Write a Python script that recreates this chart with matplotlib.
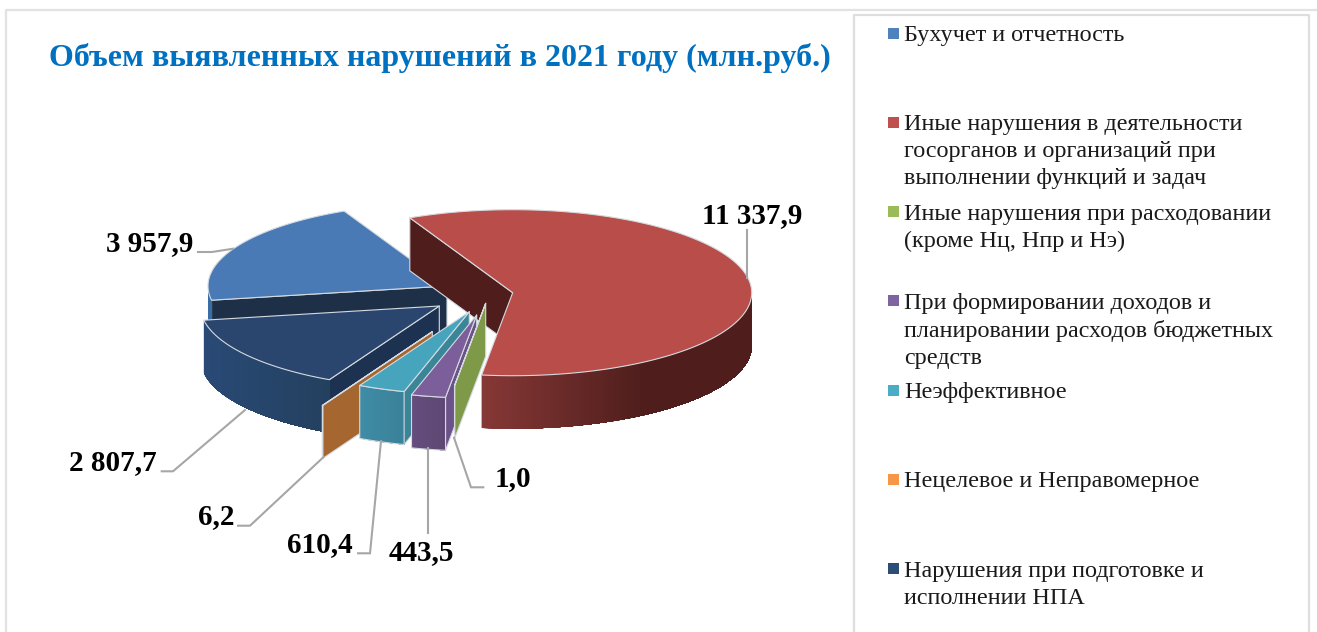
#!/usr/bin/env python3
"""Exploded 3D-look pie: violations found in 2021 (mln rub)."""
import numpy as np
import matplotlib; matplotlib.use("Agg"); import matplotlib.pyplot as plt
from matplotlib.colors import to_rgb
from matplotlib.patches import Polygon, Rectangle

plt.rcParams["font.family"] = ["Liberation Serif", "DejaVu Serif"]

TITLE = "Объем выявленных нарушений в 2021 году (млн.руб.)"
categories = ["Бухучет и отчетность",
              "Иные нарушения в деятельности\nгосорганов и организаций при\nвыполнении функций и задач",
              "Иные нарушения при расходовании\n(кроме Нц, Нпр и Нэ)",
              "При формировании доходов и\nпланировании расходов бюджетных\nсредств",
              "Неэффективное",
              "Нецелевое и Неправомерное",
              "Нарушения при подготовке и\nисполнении НПА"]
values = [3957.9, 11337.9, 1.0, 443.5, 610.4, 6.2, 2807.7]

legend_colors = ["#4F81BD", "#C0504D", "#9BBB59", "#8064A2", "#4BACC6", "#F79646", "#2C4D75"]

# layout, in pixels of the 1317x632 picture
START, A, B, DEPTH = 189.85, 239, 83, 53
centers = [(447, 286), (512.7, 292.7), (485.7, 303.3), (476.7, 315), (469.3, 311.7), (432.3, 331.7), (439.3, 306)]
draw_order = [0, 1, 6, 5, 4, 3, 2]    # back to front
top_col = ["#4A7AB5", "#B84D4A", "#7E9A49", "#7C5E9A", "#46A5BD", "#B5702F", "#2A466E"]
cut_col = ["#1E3048", "#4F1E1C", "#7E9A49", "#6B5389", "#3A8598", "#A5672F", "#1D3250"]
side_l = ["#3A6CA5", "#863836", "#7E9A49", "#654D7E", "#3F8CA6", "#A5672F", "#294A76"]
side_r = ["#3A6CA5", "#4F1E1C", "#7E9A49", "#5C4670", "#3A8299", "#A5672F", "#24405F"]
side_span = [40, 160, 40, 40, 40, 40, 125]    # px over which the side shade runs out
label_xy = [(150, 244), (752, 216), (513, 479), (421, 553), (320, 545), (216, 517), (113, 463)]
leaders = [[(198, 252), (212, 252), (233, 248.7)],
           [(746.7, 230), (746.7, 278)],
           [(483.3, 487.3), (471, 487.3), (454, 437.7)],
           [(428.3, 532.7), (428.3, 448.3)],
           [(358, 553.3), (370, 553.3), (381, 441)],
           [(238, 525.7), (250, 525.7), (323.3, 457.3)],
           [(161.7, 471.3), (173, 471.3), (245, 410)]]
EDGE = "#D5DAE0"

fig = plt.figure(figsize=(13.17, 6.32), dpi=100)
ax = fig.add_axes([0, 0, 1, 1]); ax.set_xlim(0, 1317); ax.set_ylim(632, 0); ax.axis("off")

# frames
ax.plot([6, 6, 1317], [632, 10, 10], color="#E2E2E2", lw=1.6)
ax.plot([853.5, 853.5, 1308.5, 1308.5], [632, 14.5, 14.5, 632], color="#DEDEDE", lw=1.6)

def pt(c, t):
    return c[0] + A * np.cos(np.radians(t)), c[1] - B * np.sin(np.radians(t))

def face(xy, fc, ec=EDGE, lw=0.8):
    ax.add_patch(Polygon(xy, closed=True, fc=fc, ec=ec, lw=lw, joinstyle="round"))

def radial(c, t, fc):
    x, y = pt(c, t)
    face([c, (x, y), (x, y + DEPTH), (c[0], c[1] + DEPTH)], fc)

sweeps = np.array(values) / sum(values) * 360
ends = START - np.cumsum(sweeps)
starts = ends + sweeps

for i in draw_order:
    c, t0, t1 = centers[i], starts[i], ends[i]
    # cut faces that turn towards the viewer
    if np.cos(np.radians(t0)) < 0: radial(c, t0, cut_col[i])
    if np.cos(np.radians(t1)) > 0: radial(c, t1, cut_col[i])
    ts = np.linspace(t0, t1, max(int(sweeps[i] * 3), 2))
    # outer wall, only the part below the ellipse's middle; each step paints to the wall's far end so no seams
    front = sorted([t for t in ts if np.sin(np.radians(t)) <= 0.001], key=lambda t: pt(c, t)[0])
    if len(front) > 1:
        x_left = pt(c, front[0])[0]
        cl, cr = np.array(to_rgb(side_l[i])), np.array(to_rgb(side_r[i]))
        for k in range(len(front) - 1):
            f = min((pt(c, front[k])[0] - x_left) / side_span[i], 1)
            upper = [pt(c, t) for t in front[k:]]
            lower = [(x, y + DEPTH) for x, y in upper[::-1]]
            ax.add_patch(Polygon(upper + lower, closed=True, fc=cl + (cr - cl) * f, ec="none"))
        if sweeps[i] < 15:    # the small slices keep a light outline round the wall
            upper = [pt(c, t) for t in front]
            face(upper + [(x, y + DEPTH) for x, y in upper[::-1]], "none")
    # top
    face([c] + [pt(c, t) for t in ts], top_col[i])

for pts in leaders:
    ax.plot(*zip(*pts), color="#A6A6A6", lw=1.5, solid_joinstyle="miter")

for v, (x, y) in zip(values, label_xy):
    s = f"{v:,.1f}".replace(",", " ").replace(".", ",")
    ax.text(x, y, s, fontsize=21, fontweight="bold", color="black", ha="center", va="center")

ax.text(49, 58, TITLE, fontsize=23.05, fontweight="bold", color="#0070C0", ha="left", va="center")

for i, (name, col) in enumerate(zip(categories, legend_colors)):
    y = 33 + i * 89.3
    ax.add_patch(Rectangle((888, y - 5.5), 11, 11, fc=col, ec="none"))
    ax.text(904, y - 8, name, fontsize=17.4, color="#1A1A1A", ha="left", va="top", linespacing=1.365)

fig.savefig("out.png", dpi=100)
